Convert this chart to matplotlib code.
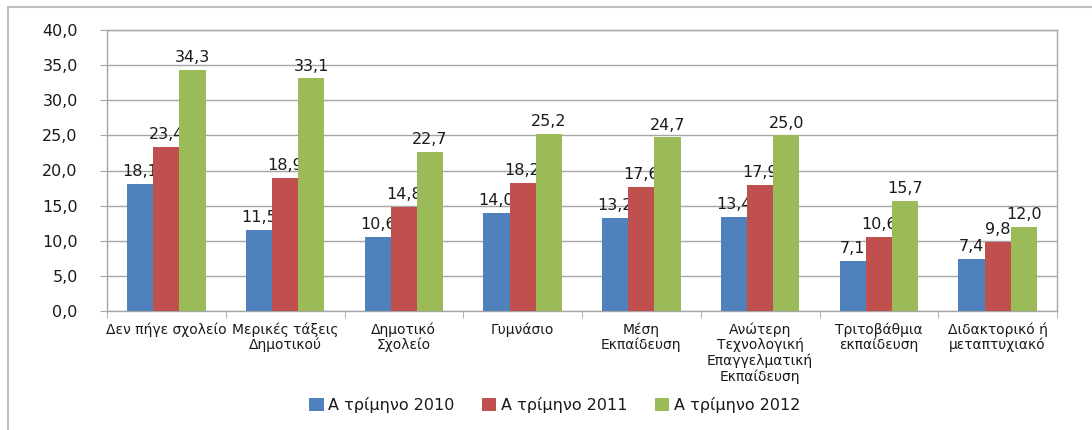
import matplotlib.pyplot as plt
from matplotlib.patches import Rectangle
from matplotlib.ticker import FuncFormatter, MultipleLocator
import numpy as np

categories = ['Δεν πήγε σχολείο', 'Μερικές τάξεις\nΔημοτικού', 'Δημοτικό\nΣχολείο',
              'Γυμνάσιο', 'Μέση\nΕκπαίδευση',
              'Ανώτερη\nΤεχνολογική\nΕπαγγελματική\nΕκπαίδευση',
              'Τριτοβάθμια\nεκπαίδευση', 'Διδακτορικό ή\nμεταπτυχιακό']
series_names = ['Α τρίμηνο 2010', 'Α τρίμηνο 2011', 'Α τρίμηνο 2012']
q2010 = [18.1, 11.5, 10.6, 14.0, 13.2, 13.4, 7.1, 7.4]
q2011 = [23.4, 18.9, 14.8, 18.2, 17.6, 17.9, 10.6, 9.8]
q2012 = [34.3, 33.1, 22.7, 25.2, 24.7, 25.0, 15.7, 12.0]
colors = ['#4F81BD', '#C0504D', '#9BBB59']

txt = '#1a1a1a'
fig = plt.figure(figsize=(10.92, 4.30), dpi=100)
# outer chart frame (only left/top visible in the crop)
fig.patches.append(Rectangle((8/1092, -0.1), 1.2, 1 - 7/430 + 0.1, transform=fig.transFigure,
                             fill=False, edgecolor='#BFBFBF', linewidth=1.5))
ax = fig.add_axes([107/1092, 1 - 311/430, 950/1092, 281/430])

x = np.arange(len(categories))
w = 0.22
for i, vals in enumerate([q2010, q2011, q2012]):
    bars = ax.bar(x + (i - 1) * w, vals, w, color=colors[i], label=series_names[i], zorder=3)
    for b, v in zip(bars, vals):
        ax.annotate(('%.1f' % v).replace('.', ','), (b.get_x() + b.get_width() / 2, v),
                    xytext=(0, 3.5), textcoords='offset points', ha='center', va='bottom',
                    fontsize=11.5, color=txt)

ax.set_xlim(-0.5, len(categories) - 0.5)
ax.set_ylim(0, 40)
ax.yaxis.set_major_locator(MultipleLocator(5))
ax.yaxis.set_major_formatter(FuncFormatter(lambda v, p: ('%.1f' % v).replace('.', ',')))
ax.grid(axis='y', color='#A6A6A6', linewidth=1, zorder=0)
for s in ax.spines.values():
    s.set_color('#A6A6A6')
    s.set_linewidth(1)

ax.set_xticks(x)
ax.set_xticklabels(categories, fontsize=10, color=txt, linespacing=1.1)
ax.tick_params(axis='x', length=0, pad=8)
ax.set_xticks(np.arange(-0.5, len(categories)), minor=True)
ax.tick_params(axis='x', which='minor', length=5, color='#A6A6A6', direction='out')
ax.tick_params(axis='y', length=5, color='#A6A6A6', labelsize=11.5, labelcolor=txt, pad=16)

fig.legend(loc='center', bbox_to_anchor=(0.508, 0.058), ncol=3, frameon=False,
           fontsize=11.5, handlelength=0.9, handleheight=0.8, handletextpad=0.3,
           columnspacing=1.7, labelcolor=txt)

fig.savefig('out.png', dpi=100)
